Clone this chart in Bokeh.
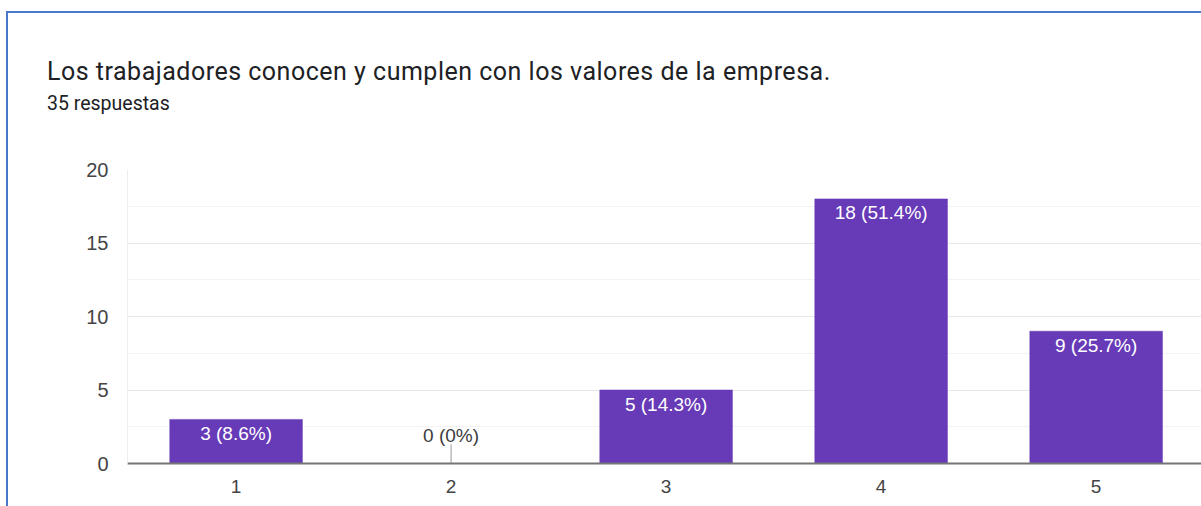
from bokeh.plotting import figure
from bokeh.models import Range1d, FixedTicker, ColumnDataSource, Div
from bokeh.layouts import column
from bokeh.core.properties import value
from bokeh.embed import file_html
from bokeh.resources import INLINE

title = "Los trabajadores conocen y cumplen con los valores de la empresa."
subtitle = "35 respuestas"
categories = ["1", "2", "3", "4", "5"]
counts = [3, 0, 5, 18, 9]
total = 35
y_ticks = [0, 5, 10, 15, 20]
y_minor = [2.5, 7.5, 12.5, 17.5]

xs = [int(c) for c in categories]


def fmt(c):
    pct = round(100.0 * c / total, 1)
    s = f"{pct:.1f}"
    if s.endswith(".0"):
        s = s[:-2]
    return f"{c} ({s}%)"


labels = [fmt(c) for c in counts]

BC = "#4a78c8"
W = 1193
HEAD_H = 110
FIG_H = 383

header = Div(
    width=W, height=HEAD_H,
    text=(
        f'<div style="position:absolute;left:39px;top:44px;font-family:Roboto;'
        f'font-size:25px;letter-spacing:0.5px;line-height:30px;color:#202124;'
        f'white-space:nowrap">{title}</div>'
        f'<div style="position:absolute;left:39px;top:79px;font-family:Roboto;'
        f'font-size:19.5px;line-height:24px;color:#202124;white-space:nowrap">{subtitle}</div>'
    ),
    styles={"margin": "0", "padding": "0"},
)

p = figure(width=W, height=FIG_H, output_backend="svg", toolbar_location=None,
           x_range=Range1d(0.495, 5.49), y_range=Range1d(0, 20),
           min_border_left=119, min_border_right=0, min_border_top=46,
           min_border_bottom=43)
p.outline_line_color = None
p.background_fill_color = "white"
p.border_fill_color = "white"

BAR = "#673ab7"
nz = [i for i, c in enumerate(counts) if c > 0]
z = [i for i, c in enumerate(counts) if c == 0]

src = ColumnDataSource(dict(x=xs, top=counts))
p.vbar(x="x", top="top", width=0.617, source=src, fill_color=BAR,
       line_color=BAR, line_width=0.5)

src_nz = ColumnDataSource(dict(x=[xs[i] for i in nz], y=[counts[i] for i in nz],
                               label=[labels[i] for i in nz]))
p.text(x="x", y="y", text="label", source=src_nz, text_align="center",
       text_baseline="middle", y_offset=14, text_color="white",
       text_font=value("Liberation Sans"), text_font_size="19px")

src_z = ColumnDataSource(dict(x=[xs[i] for i in z], y=[counts[i] for i in z],
                              label=[labels[i] for i in z],
                              y1=[counts[i] + 1.3 for i in z]))
p.segment(x0="x", y0="y", x1="x", y1="y1", source=src_z, line_color="#999999",
          line_width=1)
p.text(x="x", y="y", text="label", source=src_z, text_align="center",
       text_baseline="middle", y_offset=-28, text_color="#3c3c3c",
       text_font=value("Liberation Sans"), text_font_size="19px")

# axes
p.yaxis.ticker = FixedTicker(ticks=y_ticks, minor_ticks=y_minor)
p.yaxis.axis_line_color = "#eeeeee"
p.yaxis.major_tick_line_color = None
p.yaxis.minor_tick_line_color = None
p.yaxis.major_label_text_font = "Liberation Sans"
p.yaxis.major_label_text_font_size = "20px"
p.yaxis.major_label_text_color = "#444444"
p.yaxis.major_label_standoff = 13

p.xaxis.ticker = FixedTicker(ticks=xs)
p.xaxis.major_label_overrides = {x: c for x, c in zip(xs, categories)}
p.xaxis.axis_line_color = "#757575"
p.xaxis.axis_line_width = 2
p.xaxis.major_tick_line_color = None
p.xaxis.minor_tick_line_color = None
p.xaxis.major_label_text_font = "Liberation Sans"
p.xaxis.major_label_text_font_size = "19px"
p.xaxis.major_label_text_color = "#444444"
p.xaxis.major_label_standoff = 10

p.xgrid.grid_line_color = None
p.ygrid.grid_line_color = "#e8e8e8"
p.ygrid.grid_line_width = 1
p.ygrid.minor_grid_line_color = "#f3f3f3"

layout = column(header, p, spacing=0, styles={
    "margin-left": "6px", "margin-top": "11px",
    "border-top": f"2px solid {BC}", "border-left": f"2px solid {BC}",
})

open("out.html", "w").write(file_html(layout, INLINE))
